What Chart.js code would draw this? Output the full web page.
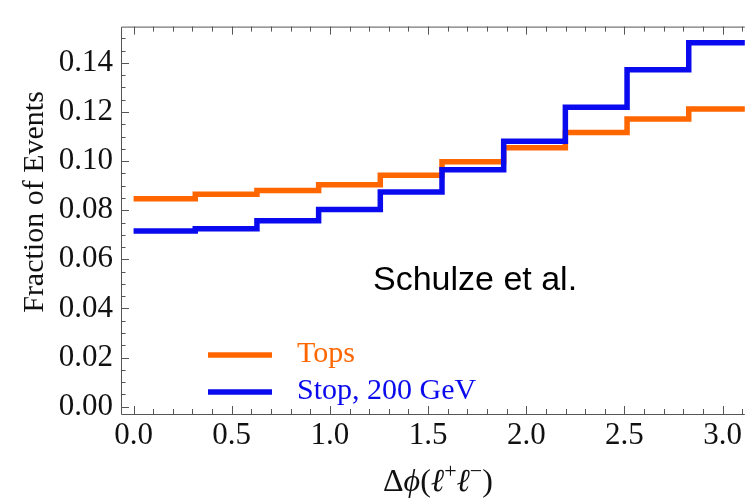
<!DOCTYPE html>
<html><head><meta charset="utf-8">
<script src="https://cdn.jsdelivr.net/npm/chart.js@4.4.0/dist/chart.umd.min.js"></script>
<style>html,body{margin:0;padding:0;background:#fff;overflow:hidden}#wrap{width:745px;height:500px;position:relative}</style>
</head><body><div id="wrap"><canvas id="c" width="745" height="500"></canvas></div>
<script>
// ---- data ----
const binEdges = [0, 0.3142, 0.6283, 0.9425, 1.2566, 1.5708, 1.8850, 2.1991, 2.5133, 2.8274, 3.1416];
const topsValues = [0.0847, 0.0865, 0.0880, 0.0904, 0.0943, 0.0997, 0.1055, 0.1117, 0.1172, 0.1212];
const stopValues = [0.0715, 0.0725, 0.0757, 0.0803, 0.0874, 0.0965, 0.1081, 0.1219, 0.1372, 0.1482];
const seriesNames = ['Tops', 'Stop, 200 GeV'];
const xTickValues = [0, 0.5, 1.0, 1.5, 2.0, 2.5, 3.0];
const yTickValues = [0, 0.02, 0.04, 0.06, 0.08, 0.10, 0.12, 0.14];
const xMinorStep = 0.1;
const yMinorStep = 0.005;
const yTitle = 'Fraction of Events';
const annotationText = 'Schulze et al.';

const ORANGE = '#ff6600';
const BLUE = '#0a0aee';
const AXIS = '#555555';
const SERIF = "'Liberation Serif', 'Times New Roman', serif";

Chart.defaults.font.family = SERIF;
Chart.defaults.font.size = 31;
Chart.defaults.color = '#111';

function stepPoints(vals) {
  const pts = vals.map((v, i) => ({x: binEdges[i], y: v}));
  pts.push({x: binEdges[binEdges.length - 1], y: vals[vals.length - 1]});
  return pts;
}

const framePlugin = {
  id: 'frame',
  afterDraw(chart) {
    const ctx = chart.ctx;
    const a = chart.chartArea;
    const xs = chart.scales.x, ys = chart.scales.y;
    ctx.save();
    ctx.strokeStyle = AXIS;
    ctx.lineWidth = 1;
    ctx.beginPath();
    ctx.moveTo(a.left + 0.5, a.top + 0.5);
    ctx.lineTo(a.left + 0.5, a.bottom + 0.5);
    ctx.lineTo(a.right, a.bottom + 0.5);
    ctx.moveTo(a.left + 0.5, a.top + 0.5);
    ctx.lineTo(a.right, a.top + 0.5);
    ctx.stroke();
    ctx.beginPath();
    for (let k = 0; k * xMinorStep <= xs.max + 1e-9; k++) {
      const v = k * xMinorStep;
      const px = Math.round(xs.getPixelForValue(v)) + 0.5;
      const major = xTickValues.some(t => Math.abs(t - v) < 1e-6);
      const len = major ? 8 : 5;
      ctx.moveTo(px, a.bottom); ctx.lineTo(px, a.bottom - len);
      ctx.moveTo(px, a.top); ctx.lineTo(px, a.top + len);
    }
    for (let k = 0; k * yMinorStep <= ys.max + 1e-9; k++) {
      const v = k * yMinorStep;
      const py = Math.round(ys.getPixelForValue(v)) + 0.5;
      const major = yTickValues.some(t => Math.abs(t - v) < 1e-6);
      const len = major ? 8 : 4.5;
      ctx.moveTo(a.left, py); ctx.lineTo(a.left + len, py);
    }
    ctx.stroke();

    // legend
    const dsets = chart.data.datasets;
    const legendRows = [{y: 355, ds: dsets[1]}, {y: 392, ds: dsets[0]}];
    ctx.font = '30px ' + SERIF;
    ctx.textBaseline = 'alphabetic';
    ctx.textAlign = 'left';
    legendRows.forEach(r => {
      ctx.strokeStyle = r.ds.borderColor;
      ctx.lineWidth = 5.5;
      ctx.lineCap = 'butt';
      ctx.beginPath();
      ctx.moveTo(208, r.y); ctx.lineTo(272, r.y);
      ctx.stroke();
      ctx.fillStyle = r.ds.borderColor;
      ctx.fillText(r.ds.label, 297, r.y + 7);
    });

    // annotation
    ctx.fillStyle = '#000';
    ctx.font = "34px 'Liberation Sans', Arial, sans-serif";
    ctx.fillText(annotationText, 373, 290);

    // y title
    ctx.save();
    ctx.translate(43, 202);
    ctx.rotate(-Math.PI / 2);
    ctx.textAlign = 'center';
    ctx.font = '30px ' + SERIF;
    ctx.fillStyle = '#111';
    ctx.fillText(yTitle, 0, 0);
    ctx.restore();

    // x title
    const parts = [
      {t: 'Δ', f: '32px ' + SERIF, dy: 0},
      {t: 'ϕ', f: 'italic 32px ' + SERIF, dy: 0},
      {t: '(', f: '32px ' + SERIF, dy: 0},
      {t: 'ℓ', f: 'italic 32px ' + SERIF, dy: 0},
      {t: '+', f: '22px ' + SERIF, dy: -13},
      {t: 'ℓ', f: 'italic 32px ' + SERIF, dy: 0},
      {t: '−', f: '22px ' + SERIF, dy: -13},
      {t: ')', f: '32px ' + SERIF, dy: 0}
    ];
    let x = 383;
    const base = 491;
    ctx.fillStyle = '#111';
    parts.forEach(p => {
      ctx.font = p.f;
      ctx.fillText(p.t, x, base + p.dy);
      x += ctx.measureText(p.t).width;
    });
    ctx.restore();
  }
};

new Chart(document.getElementById('c'), {
  type: 'line',
  data: {
    datasets: [
      {label: seriesNames[1], data: stepPoints(stopValues), borderColor: BLUE, borderWidth: 5.5, stepped: 'before', pointRadius: 0, fill: false},
      {label: seriesNames[0], data: stepPoints(topsValues), borderColor: ORANGE, borderWidth: 5.5, stepped: 'before', pointRadius: 0, fill: false}
    ]
  },
  options: {
    responsive: false,
    animation: false,
    devicePixelRatio: 1,
    layout: {padding: {top: 8, right: 0, left: 0, bottom: 0}},
    plugins: {legend: {display: false}, tooltip: {enabled: false}},
    scales: {
      x: {
        type: 'linear', min: -0.064, max: 3.113,
        grid: {display: false, drawTicks: false},
        border: {display: false},
        afterBuildTicks: s => { s.ticks = xTickValues.map(v => ({value: v})); },
        afterFit: s => { s.height = 86; },
        ticks: {
          padding: 3, maxRotation: 0, autoSkip: false,
          color: '#111', font: {family: SERIF, size: 31},
          callback: v => Number(v).toFixed(1)
        }
      },
      y: {
        type: 'linear', min: -0.003, max: 0.1548,
        grid: {display: false, drawTicks: false},
        border: {display: false},
        afterBuildTicks: s => { s.ticks = yTickValues.map(v => ({value: v})); },
        afterFit: s => { s.width = 121; },
        ticks: {
          padding: 8, autoSkip: false,
          color: '#111', font: {family: SERIF, size: 31},
          callback: v => Number(v).toFixed(2)
        }
      }
    }
  },
  plugins: [framePlugin]
});
</script>
</body></html>
